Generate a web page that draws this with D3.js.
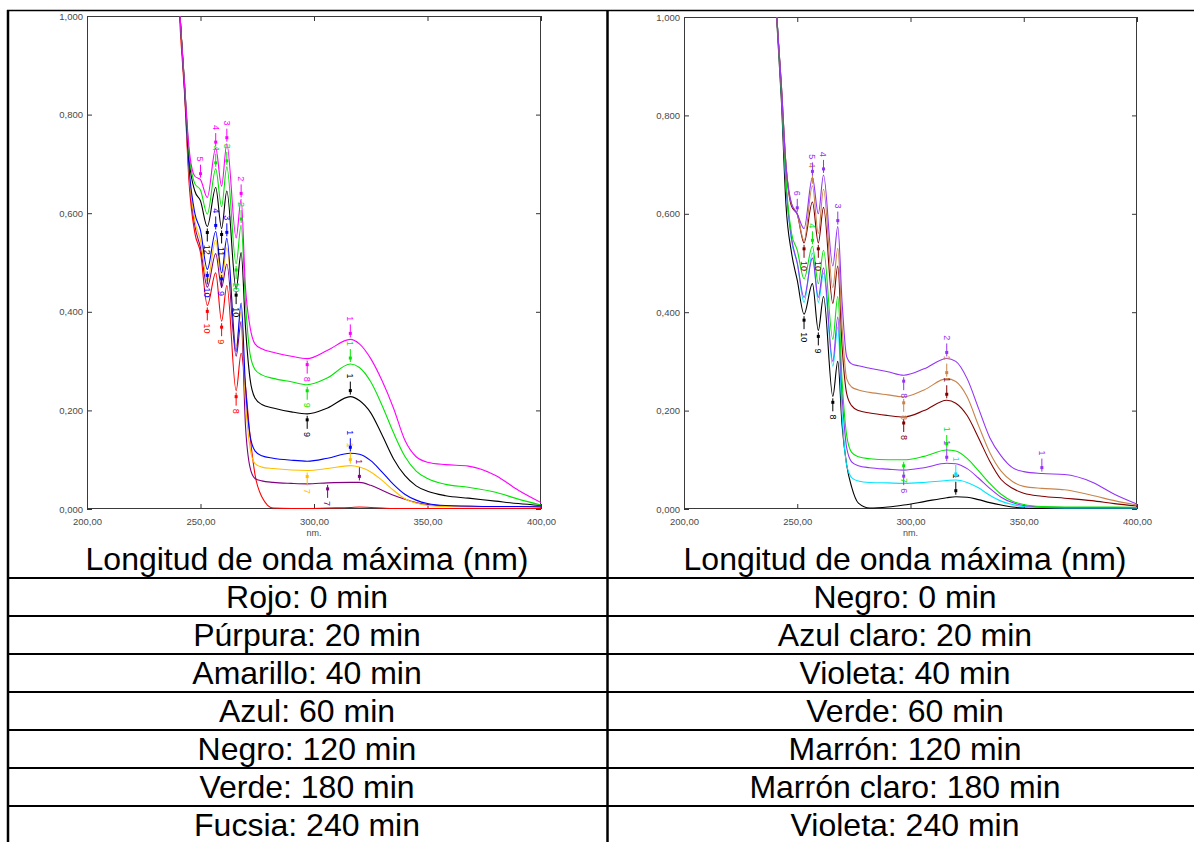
<!DOCTYPE html>
<html>
<head>
<meta charset="utf-8">
<script src="https://cdn.jsdelivr.net/npm/d3@7"></script>
<style>
  html, body { margin: 0; padding: 0; background: #fff; }
  svg { display: block; font-family: Arial, "Liberation Sans", sans-serif; }
</style>
</head>
<body>
<svg id="fig" width="1194" height="842"></svg>
<script>
// Wavelength grid (nm) shared by every spectrum
const wavelengths = [238, 241, 243, 245, 247.5, 250, 253, 256.7, 259.3, 261.6, 265.7, 267.9, 269.8, 271.8, 274, 277, 282, 290, 297, 306, 316, 320, 325, 330, 335, 340, 345, 350, 358, 368, 380, 390, 400];

// Axis ticks
const xTicks = [200, 250, 300, 350, 400];
const yTicks = [0, 0.2, 0.4, 0.6, 0.8, 1.0];

// Left panel absorbances
const rojo0      = [1.3, 0.98, 0.84, 0.66, 0.56, 0.52, 0.413, 0.479, 0.381, 0.453, 0.24, 0.316, 0.25, 0.15, 0.07, 0.025, 0.002, 0.001, 0.001, 0.002, 0.003, 0.004, 0.003, 0.002, 0.001, 0.001, 0.001, 0.001, 0.001, 0.001, 0.001, 0.001, 0.001];
const purpura20  = [1.3, 1.0, 0.85, 0.675, 0.575, 0.53, 0.45, 0.518, 0.45, 0.497, 0.31, 0.38, 0.17, 0.085, 0.062, 0.057, 0.054, 0.052, 0.051, 0.053, 0.054, 0.054, 0.048, 0.038, 0.028, 0.02, 0.013, 0.009, 0.006, 0.005, 0.005, 0.005, 0.005];
const amarillo40 = [1.3, 1.0, 0.85, 0.68, 0.585, 0.545, 0.462, 0.545, 0.462, 0.53, 0.33, 0.40, 0.22, 0.125, 0.092, 0.085, 0.082, 0.079, 0.078, 0.082, 0.088, 0.085, 0.075, 0.058, 0.038, 0.021, 0.012, 0.007, 0.005, 0.004, 0.004, 0.004, 0.004];
const azul60     = [1.3, 1.0, 0.85, 0.69, 0.6, 0.565, 0.486, 0.563, 0.479, 0.549, 0.319, 0.418, 0.25, 0.15, 0.118, 0.108, 0.103, 0.099, 0.097, 0.103, 0.113, 0.111, 0.098, 0.075, 0.05, 0.03, 0.018, 0.011, 0.007, 0.006, 0.005, 0.005, 0.004];
const negro120   = [1.3, 1.0, 0.86, 0.71, 0.645, 0.625, 0.573, 0.652, 0.569, 0.645, 0.446, 0.52, 0.37, 0.265, 0.225, 0.212, 0.205, 0.197, 0.193, 0.205, 0.228, 0.22, 0.195, 0.15, 0.102, 0.068, 0.047, 0.036, 0.027, 0.022, 0.016, 0.011, 0.007];
const verde180   = [1.3, 1.0, 0.86, 0.72, 0.66, 0.647, 0.598, 0.69, 0.613, 0.694, 0.497, 0.576, 0.42, 0.315, 0.283, 0.272, 0.265, 0.258, 0.252, 0.266, 0.294, 0.287, 0.258, 0.21, 0.155, 0.107, 0.077, 0.062, 0.05, 0.044, 0.034, 0.02, 0.008];
const fucsia240  = [1.3, 1.0, 0.86, 0.73, 0.675, 0.668, 0.632, 0.732, 0.655, 0.741, 0.55, 0.628, 0.45, 0.37, 0.335, 0.325, 0.318, 0.31, 0.305, 0.322, 0.344, 0.335, 0.305, 0.26, 0.205, 0.14, 0.106, 0.095, 0.09, 0.087, 0.068, 0.038, 0.013];

// Right panel absorbances
const negro0        = [1.3, 0.99, 0.83, 0.62, 0.52, 0.465, 0.396, 0.458, 0.363, 0.432, 0.229, 0.30, 0.17, 0.09, 0.045, 0.012, 0.002, 0.004, 0.008, 0.015, 0.023, 0.025, 0.024, 0.019, 0.013, 0.008, 0.004, 0.002, 0.001, 0, 0, 0, 0];
const azulClaro20   = [1.3, 1.0, 0.85, 0.66, 0.545, 0.50, 0.42, 0.52, 0.42, 0.48, 0.29, 0.37, 0.19, 0.09, 0.064, 0.057, 0.054, 0.053, 0.052, 0.054, 0.058, 0.059, 0.054, 0.043, 0.028, 0.016, 0.009, 0.005, 0.003, 0.002, 0.002, 0.002, 0.002];
const violeta40     = [1.3, 1.0, 0.85, 0.66, 0.55, 0.50, 0.43, 0.51, 0.43, 0.49, 0.30, 0.39, 0.23, 0.125, 0.096, 0.088, 0.084, 0.081, 0.079, 0.084, 0.093, 0.092, 0.082, 0.063, 0.042, 0.024, 0.013, 0.007, 0.004, 0.003, 0.003, 0.003, 0.003];
const verde60       = [1.3, 1.0, 0.85, 0.67, 0.56, 0.526, 0.468, 0.534, 0.458, 0.526, 0.345, 0.432, 0.26, 0.15, 0.115, 0.106, 0.102, 0.1, 0.1, 0.107, 0.12, 0.118, 0.103, 0.078, 0.052, 0.03, 0.016, 0.009, 0.005, 0.004, 0.004, 0.004, 0.003];
const marron120     = [1.3, 1.0, 0.86, 0.70, 0.615, 0.599, 0.541, 0.624, 0.541, 0.613, 0.418, 0.494, 0.33, 0.235, 0.21, 0.2, 0.195, 0.19, 0.187, 0.2, 0.221, 0.215, 0.19, 0.145, 0.097, 0.06, 0.042, 0.032, 0.026, 0.022, 0.017, 0.011, 0.006];
const marronClaro180= [1.3, 1.0, 0.86, 0.70, 0.62, 0.60, 0.545, 0.657, 0.56, 0.65, 0.45, 0.53, 0.37, 0.265, 0.248, 0.242, 0.237, 0.232, 0.228, 0.242, 0.265, 0.259, 0.228, 0.17, 0.115, 0.077, 0.056, 0.046, 0.042, 0.039, 0.028, 0.017, 0.008];
const violeta240    = [1.3, 1.0, 0.86, 0.70, 0.62, 0.60, 0.57, 0.674, 0.60, 0.679, 0.494, 0.574, 0.42, 0.31, 0.295, 0.291, 0.286, 0.279, 0.272, 0.285, 0.306, 0.3, 0.265, 0.205, 0.145, 0.108, 0.084, 0.076, 0.072, 0.07, 0.055, 0.03, 0.01];

// Peak-pick annotations: [wavelength, peak number, 1 = maximum / -1 = minimum]
const rojoPeaks      = [[253, "10", -1], [259.3, "9", -1], [265.7, "8", -1]];
const purpuraPeaks   = [[306, "7", -1], [320, "1", 1]];
const amarilloPeaks  = [[297, "7", -1], [316, "1", 1]];
const azulPeaks      = [[256.7, "4", 1], [261.6, "3", 1], [253, "10", -1], [259.3, "9", -1], [316, "1", 1]];
const negro120Peaks  = [[253, "12", -1], [259.3, "11", -1], [265.7, "10", -1], [297, "9", -1], [316, "1", 1]];
const verde180Peaks  = [[256.7, "4", 1], [261.6, "3", 1], [267.9, "2", 1], [265.7, "10", -1], [297, "9", -1], [316, "1", 1]];
const fucsiaPeaks    = [[250, "5", 1], [256.7, "4", 1], [261.6, "3", 1], [267.9, "2", 1], [297, "8", -1], [316, "1", 1]];

const negro0Peaks    = [[253, "10", -1], [259.3, "9", -1], [265.7, "8", -1], [320, "1", 1]];
const azulClaroPeaks = [[320, "1", 1]];
const violeta40Peaks = [[297, "6", -1], [316, "1", 1]];
const verde60Peaks   = [[256.7, "4", 1], [297, "7", -1], [316, "1", 1]];
const marronPeaks    = [[253, "10", -1], [259.3, "10", -1], [297, "8", -1], [316, "1", 1]];
const marronClPeaks  = [[256.7, "4", 1], [297, "8", -1], [316, "1", 1]];
const violeta240Peaks= [[250, "6", 1], [256.7, "5", 1], [261.6, "4", 1], [267.9, "3", 1], [297, "8", -1], [316, "2", 1], [358, "1", 1]];

// Table captions
const leftCaptions  = ["Rojo: 0 min", "Púrpura: 20 min", "Amarillo: 40 min", "Azul: 60 min", "Negro: 120 min", "Verde: 180 min", "Fucsia: 240 min"];
const rightCaptions = ["Negro: 0 min", "Azul claro: 20 min", "Violeta: 40 min", "Verde: 60 min", "Marrón: 120 min", "Marrón claro: 180 min", "Violeta: 240 min"];
const axisTitle = "Longitud de onda máxima (nm)";

const leftSeries = [
  { values: rojo0,      color: "#ff0000", peaks: rojoPeaks },
  { values: purpura20,  color: "#800080", peaks: purpuraPeaks },
  { values: amarillo40, color: "#ffbf00", peaks: amarilloPeaks },
  { values: azul60,     color: "#0000ff", peaks: azulPeaks },
  { values: negro120,   color: "#000000", peaks: negro120Peaks },
  { values: verde180,   color: "#00e600", peaks: verde180Peaks },
  { values: fucsia240,  color: "#ff00ff", peaks: fucsiaPeaks }
];
const rightSeries = [
  { values: negro0,         color: "#000000", peaks: negro0Peaks },
  { values: azulClaro20,    color: "#00e5ff", peaks: azulClaroPeaks },
  { values: violeta40,      color: "#9333f5", peaks: violeta40Peaks },
  { values: verde60,        color: "#00e600", peaks: verde60Peaks },
  { values: marron120,      color: "#800000", peaks: marronPeaks },
  { values: marronClaro180, color: "#c8844c", peaks: marronClPeaks },
  { values: violeta240,     color: "#9333f5", peaks: violeta240Peaks }
];

const svg = d3.select("#fig");
svg.append("rect").attr("width", 1194).attr("height", 842).attr("fill", "#fff");

const loc = d3.formatLocale({ decimal: ",", thousands: ".", grouping: [3], currency: ["", ""] });
const fmtY = loc.format(".3f");
const fmtX = loc.format(".2f");

function panel(box, series, id) {
  const x = d3.scaleLinear().domain([200, 400]).range([box.left, box.right]);
  const y = d3.scaleLinear().domain([0, 1]).range([box.bottom, box.top]);
  const g = svg.append("g");

  g.append("clipPath").attr("id", id).append("rect")
    .attr("x", box.left).attr("y", box.top)
    .attr("width", box.right - box.left).attr("height", box.bottom - box.top);

  const styleAxis = a => {
    a.select(".domain").remove();
    a.selectAll(".tick line").attr("stroke", "#333").attr("stroke-width", 1);
    a.selectAll(".tick text").attr("fill", "#4a4a4a").attr("font-size", 9.5)
      .attr("font-family", "Arial, 'Liberation Sans', sans-serif");
  };

  g.append("g").attr("transform", `translate(${box.left},0)`)
    .call(d3.axisLeft(y).tickValues(yTicks).tickFormat(fmtY).tickSize(-5).tickPadding(4))
    .call(styleAxis);
  g.append("g").attr("transform", `translate(${box.right},0)`)
    .call(d3.axisRight(y).tickValues(yTicks).tickFormat("").tickSize(-5))
    .call(styleAxis);
  g.append("g").attr("transform", `translate(0,${box.bottom})`)
    .call(d3.axisBottom(x).tickValues(xTicks).tickFormat(fmtX).tickSize(-5).tickPadding(9))
    .call(styleAxis);
  g.append("g").attr("transform", `translate(0,${box.top})`)
    .call(d3.axisTop(x).tickValues(xTicks).tickFormat("").tickSize(-5))
    .call(styleAxis);

  g.append("rect")
    .attr("x", box.left + 0.5).attr("y", box.top + 0.5)
    .attr("width", box.right - box.left - 1).attr("height", box.bottom - box.top - 1)
    .attr("fill", "none").attr("stroke", "#3a3a3a").attr("stroke-width", 1);

  g.append("text").attr("x", x(300)).attr("y", box.bottom + 27)
    .attr("text-anchor", "middle").attr("font-size", 9).attr("fill", "#4a4a4a").text("nm.");

  const line = d3.line()
    .x((d, i) => x(wavelengths[i]))
    .y(d => y(d))
    .curve(d3.curveMonotoneX);

  const curves = g.append("g").attr("clip-path", `url(#${id})`);
  series.forEach(s => {
    curves.append("path").attr("d", line(s.values))
      .attr("fill", "none").attr("stroke", s.color).attr("stroke-width", 1.1);
  });

  // peak markers: short arrow, dot, rotated peak number
  const marks = g.append("g");
  series.forEach(s => {
    s.peaks.forEach(([nm, label, dir]) => {
      const i = wavelengths.indexOf(nm);
      const cx = x(nm), cy = y(s.values[i]);
      marks.append("line")
        .attr("x1", cx).attr("x2", cx)
        .attr("y1", cy - dir * 2).attr("y2", cy - dir * 15)
        .attr("stroke", s.color).attr("stroke-width", 1);
      marks.append("rect")
        .attr("x", cx - 1.5).attr("y", cy - dir * 6 - 1.5)
        .attr("width", 3).attr("height", 3).attr("fill", s.color);
      const off = 18 + label.length * 2.6;
      marks.append("text")
        .attr("transform", `translate(${cx},${cy - dir * off}) rotate(90)`)
        .attr("text-anchor", "middle").attr("dy", "0.35em")
        .attr("font-size", 9).attr("fill", s.color).text(label);
    });
  });
}

panel({ left: 87, right: 541, top: 16, bottom: 509 }, leftSeries, "clipL");
panel({ left: 684, right: 1137, top: 17, bottom: 509 }, rightSeries, "clipR");

// Table grid
const grid = svg.append("g").attr("stroke", "#000");
grid.append("line").attr("x1", 7).attr("x2", 1194).attr("y1", 10.5).attr("y2", 10.5).attr("stroke-width", 1.5);
grid.append("line").attr("x1", 8).attr("x2", 8).attr("y1", 10).attr("y2", 842).attr("stroke-width", 2.5);
grid.append("line").attr("x1", 607.5).attr("x2", 607.5).attr("y1", 10).attr("y2", 842).attr("stroke-width", 2.5);

const rowTops = d3.range(leftCaptions.length).map(i => 578 + i * 38);
rowTops.forEach(t => {
  grid.append("line").attr("x1", 7).attr("x2", 1194).attr("y1", t).attr("y2", t).attr("stroke-width", 2);
});

const txt = svg.append("g").attr("font-size", 32).attr("fill", "#000").attr("text-anchor", "middle")
  .attr("font-family", "Arial, 'Liberation Sans', sans-serif");
txt.append("text").attr("x", 307).attr("y", 570).text(axisTitle);
txt.append("text").attr("x", 905).attr("y", 570).text(axisTitle);
leftCaptions.forEach((c, i) => txt.append("text").attr("x", 307).attr("y", rowTops[i] + 30).text(c));
rightCaptions.forEach((c, i) => txt.append("text").attr("x", 905).attr("y", rowTops[i] + 30).text(c));
</script>
</body>
</html>
